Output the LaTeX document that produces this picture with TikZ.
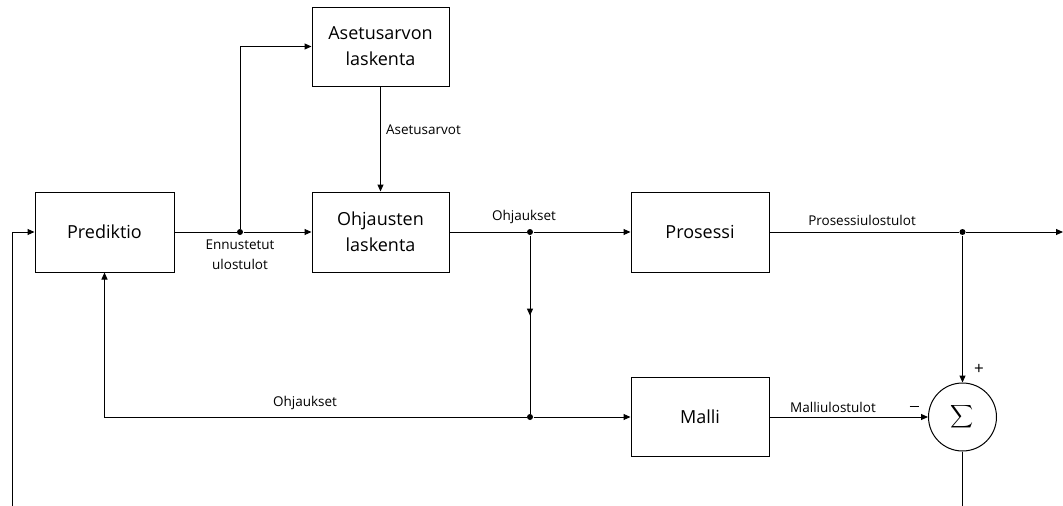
\documentclass[tikz,border=0pt]{standalone}
\usepackage{fontspec}
\setmainfont{Open Sans}
\usepackage{graphicx}
\usetikzlibrary{arrows.meta,decorations.markings}
\begin{document}
\begin{tikzpicture}[x=1pt,y=-1pt, line width=1pt,
  box/.style={draw, minimum width=137pt, minimum height=80pt, align=center, inner sep=0pt,
              font=\fontsize{18}{26}\selectfont},
  lbl/.style={font=\fontsize{13.5}{20}\selectfont, align=center, inner sep=0pt},
  arr/.style={-{Triangle[length=7pt,width=6pt]}},
  midarr/.style={postaction={decorate},
     decoration={markings, mark=at position 0.45 with {\arrow{Triangle[length=7pt,width=6pt]}}}},
  dotnode/.style={circle, fill, inner sep=0pt, minimum size=6pt}]
\useasboundingbox (0,0) rectangle (1063,506);
% blocks
\node[box, minimum width=139pt] (pred) at (104.5,232) {Prediktio};
\node[box, minimum height=79pt] (aset) at (380.5,46.5) {Asetusarvon\\laskenta};
\node[box] (ohj) at (380.5,232) {Ohjausten\\laskenta};
\node[box, minimum width=138pt] (pros) at (700,232) {Prosessi};
\node[box, minimum width=138pt, minimum height=79pt] (malli) at (700,417) {Malli};
\node[draw, circle, minimum size=68pt, inner sep=0pt] (sum) at (962.5,417) {\scalebox{1.6}{$\displaystyle\sum$}};
% junctions
\node[dotnode] (d1) at (240,232) {};
\node[dotnode] (d2) at (530,232) {};
\node[dotnode] (d3) at (530,417) {};
\node[dotnode] (d4) at (962.5,232) {};
\coordinate (fbin) at (12,506);
\coordinate (out) at (1063,232);
\coordinate (sumout) at (962.5,506);
% connectors
\draw (pred.east) -- (d1);
\draw[arr] (d1) -- (ohj.west);
\draw[arr] (d1) |- (aset.west);
\draw[arr] (aset.south) -- (ohj.north);
\draw (ohj.east) -- (d2);
\draw[arr] (d2) -- (pros.west);
\draw[midarr] (d2) -- (d3);
\draw[arr] (d3) -- (malli.west);
\draw[arr] (d3) -| (pred.south);
\draw (pros.east) -- (d4);
\draw[arr] (d4) -- (out);
\draw[arr] (d4) -- (sum.north);
\draw[arr] (malli.east) -- (sum.west);
\draw (sum.south) -- (sumout);
\draw[arr] (fbin) |- (pred.west);
% labels
\node[lbl] (lenn) at (240,255) {Ennustetut\\ulostulot};
\node[lbl] (laset) at (423.5,130) {Asetusarvot};
\node[lbl] (lohj1) at (524,217) {Ohjaukset};
\node[lbl] (lohj2) at (305,403) {Ohjaukset};
\node[lbl] (lpros) at (862,220) {Prosessiulostulot};
\node[lbl] (lmalli) at (833,407) {Malliulostulot};
\node[lbl, font=\fontsize{17}{20}\selectfont] (lplus) at (979,369) {+};
\node[inner sep=0pt] (lminus) at (914,406) {\rule{9pt}{1pt}};
\end{tikzpicture}
\end{document}
